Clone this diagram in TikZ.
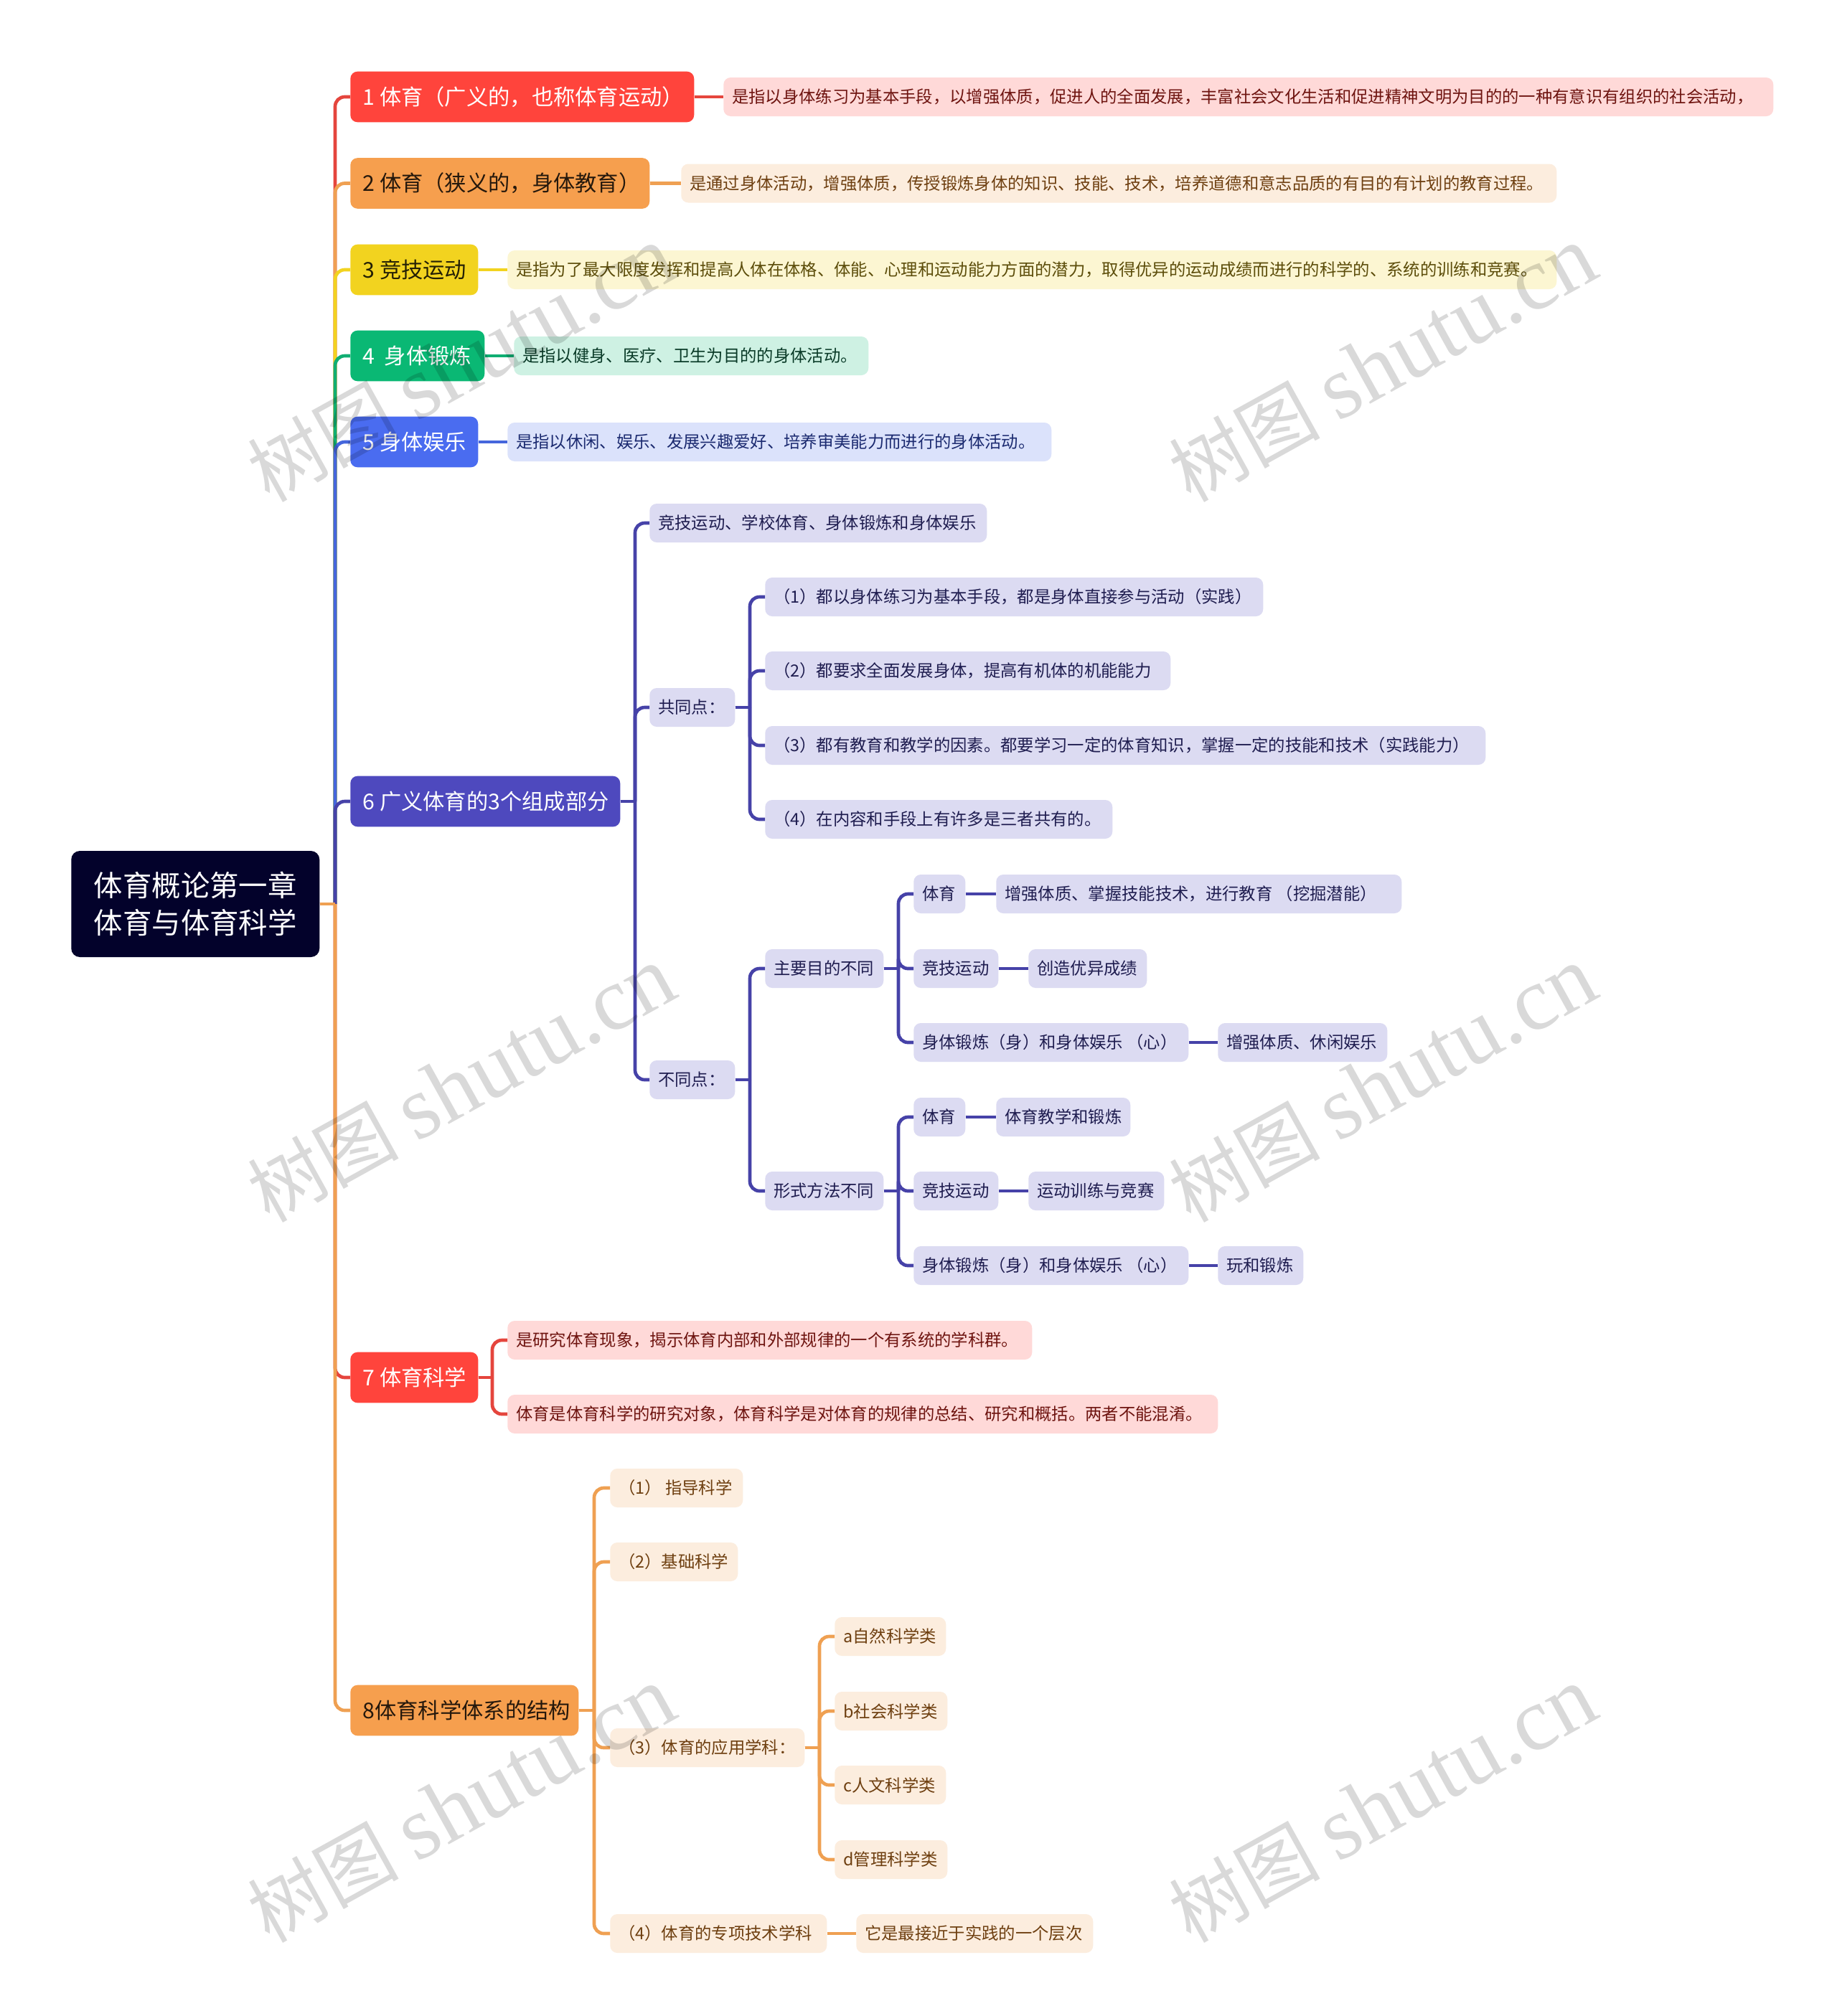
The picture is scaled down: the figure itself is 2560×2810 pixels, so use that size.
\documentclass[tikz,border=0pt]{standalone}
\usepackage{fontspec}
\setmainfont{Noto Sans CJK SC}
\newfontfamily\wmlat{Liberation Serif}
\usetikzlibrary{calc}
\definecolor{cred}{HTML}{FF443C}\definecolor{dred}{HTML}{FFD9D8}\definecolor{tred}{HTML}{6E1410}\definecolor{lred}{HTML}{E5453D}
\definecolor{cora}{HTML}{F69F4E}\definecolor{dora}{HTML}{FCEDDE}\definecolor{tora}{HTML}{6E3F10}\definecolor{lora}{HTML}{EFA052}
\definecolor{cyel}{HTML}{F2D31F}\definecolor{dyel}{HTML}{FCF6D2}\definecolor{tyel}{HTML}{5C4D0A}
\definecolor{cgre}{HTML}{0AB874}\definecolor{dgre}{HTML}{CEF1E3}\definecolor{tgre}{HTML}{0A3B28}\definecolor{lgre}{HTML}{10AE72}
\definecolor{cblu}{HTML}{4A6CF0}\definecolor{dblu}{HTML}{DBE2FB}\definecolor{tblu}{HTML}{1B2A70}\definecolor{lblu}{HTML}{4566DC}
\definecolor{cind}{HTML}{4E49BE}\definecolor{dind}{HTML}{DCDBF2}\definecolor{tind}{HTML}{1F1D50}\definecolor{lind}{HTML}{4642A8}
\definecolor{croot}{HTML}{03022B}
\newlength\insetlen
\newlength\boxw
\tikzset{
 inset/.code={\setlength\insetlen{#1}},
 boxbase/.style={rounded corners=7.5pt,inner xsep=0pt,inner ysep=0pt,anchor=west},
 lone/.style={boxbase,inset=13pt,minimum height=53pt,font=\fontsize{22.7}{27}\selectfont},
 ltwo/.style={boxbase,inset=9pt,minimum height=40.5pt,font=\fontsize{17.5}{21}\selectfont},
 conn/.style={line width=3.5pt,rounded corners=10pt},
 wmark/.style={rotate=29,text=black,opacity=0.15,text opacity=0.15,anchor=center},
}
\newcommand{\nn}[6]{\pgfmathsetlength\boxw{(#4-#3)*0.75pt}\node[#2] (#1) at (#3,#5) {\makebox[\boxw][l]{\hspace*{\insetlen}#6}};}
% \brk{from}{bus}{to}{colour}: a straight stub to the bus, then a rounded turn to the child
\newcommand{\brk}[4]{\draw[conn,draw=#4] (#1.east) -- (#2 |- #1.east);\draw[conn,draw=#4] (#2 |- #1.east) -- (#2 |- #3.west) -- (#3.west);}
\newcommand{\lnk}[3]{\draw[conn,draw=#3] (#1.east) -- (#2.west);}
\newcommand{\wm}[3]{\node[wmark] (#1) at (#2,#3) {\fontsize{79}{90}\selectfont 树图\ {\wmlat\fontsize{94}{100}\selectfont shutu.cn}};}
\begin{document}
\begin{tikzpicture}[x=0.75pt,y=-0.75pt]
\useasboundingbox (0,0) rectangle (2560,2810);
\fill[white] (0,0) rectangle (2560,2810);
\coordinate (tk) at (467,0);
\coordinate (bsix) at (885,0);
\coordinate (bsam) at (1045,0);
\coordinate (bdif) at (1045,0);
\coordinate (bm) at (1252,0);
\coordinate (bseven) at (686,0);
\coordinate (beight) at (828,0);
\coordinate (bapp) at (1142,0);
% root
\node[rounded corners=9pt,fill=croot,text=white,align=center,inner sep=0pt,minimum width=259.5pt,minimum height=111pt,anchor=west,font=\fontsize{30.3}{39}\selectfont] (root) at (99,1260) {体育概论第一章\\体育与体育科学};
% level 1
\nn{a}{lone,fill=cred,text=white}{488}{967}{135}{1 体育（广义的，也称体育运动）}
\nn{b}{lone,fill=cora,text=black!85!cora}{488}{905}{255.5}{2 体育（狭义的，身体教育）}
\nn{c}{lone,fill=cyel,text=black!85!cyel}{488}{666}{376}{3 竞技运动}
\nn{d}{lone,fill=cgre,text=white}{488}{675}{496}{4\ \ 身体锻炼}
\nn{e}{lone,fill=cblu,text=white}{488}{666}{616}{5 身体娱乐}
\nn{f}{lone,fill=cind,text=white}{488}{864}{1117}{6 广义体育的3个组成部分}
\nn{g}{lone,fill=cred,text=white}{488}{666}{1920}{7 体育科学}
\nn{h}{lone,fill=cora,text=black!85!cora}{488}{806}{2384}{8体育科学体系的结构}
% descriptions
\nn{ad}{ltwo,fill=dred,text=tred}{1008}{2471}{135}{是指以身体练习为基本手段，以增强体质，促进人的全面发展，丰富社会文化生活和促进精神文明为目的的一种有意识有组织的社会活动，}
\nn{bd}{ltwo,fill=dora,text=tora}{949}{2169}{255.5}{是通过身体活动，增强体质，传授锻炼身体的知识、技能、技术，培养道德和意志品质的有目的有计划的教育过程。}
\nn{cd}{ltwo,fill=dyel,text=tyel}{707}{2169}{376}{是指为了最大限度发挥和提高人体在体格、体能、心理和运动能力方面的潜力，取得优异的运动成绩而进行的科学的、系统的训练和竞赛。}
\nn{dd}{ltwo,fill=dgre,text=tgre}{716}{1210}{496}{是指以健身、医疗、卫生为目的的身体活动。}
\nn{ed}{ltwo,fill=dblu,text=tblu}{707}{1465}{616}{是指以休闲、娱乐、发展兴趣爱好、培养审美能力而进行的身体活动。}
% six
\tikzset{ind/.style={ltwo,fill=dind,text=tind}}
\nn{fa}{ind}{905}{1375}{729}{竞技运动、学校体育、身体锻炼和身体娱乐}
\nn{fb}{ind}{905}{1024}{986}{共同点：}
\nn{fba}{ind}{1066}{1760}{832}{（1）都以身体练习为基本手段，都是身体直接参与活动（实践）}
\nn{fbb}{ind}{1066}{1631}{935}{（2）都要求全面发展身体，提高有机体的机能能力}
\nn{fbc}{ind}{1066}{2070}{1039}{（3）都有教育和教学的因素。都要学习一定的体育知识，掌握一定的技能和技术（实践能力）}
\nn{fbd}{ind}{1066}{1550}{1142}{（4）在内容和手段上有许多是三者共有的。}
\nn{fc}{ind}{905}{1024}{1505}{不同点：}
\nn{fm}{ind}{1066}{1231}{1350}{主要目的不同}
\nn{fma}{ind}{1273}{1345}{1246}{体育}
\nn{fmaa}{ind}{1388}{1953}{1246}{增强体质、掌握技能技术，进行教育\ （挖掘潜能）}
\nn{fmb}{ind}{1273}{1391}{1350}{竞技运动}
\nn{fmbb}{ind}{1433}{1598}{1350}{创造优异成绩}
\nn{fmc}{ind}{1273}{1656}{1453}{身体锻炼（身）和身体娱乐\ （心）}
\nn{fmcc}{ind}{1697}{1933}{1453}{增强体质、休闲娱乐}
\nn{fn}{ind}{1066}{1231}{1660}{形式方法不同}
\nn{fna}{ind}{1273}{1345}{1557}{体育}
\nn{fnaa}{ind}{1388}{1575}{1557}{体育教学和锻炼}
\nn{fnb}{ind}{1273}{1391}{1660}{竞技运动}
\nn{fnbb}{ind}{1433}{1622}{1660}{运动训练与竞赛}
\nn{fnc}{ind}{1273}{1656}{1764}{身体锻炼（身）和身体娱乐\ （心）}
\nn{fncc}{ind}{1697}{1816}{1764}{玩和锻炼}
% seven
\nn{ga}{ltwo,fill=dred,text=tred}{707}{1438}{1868}{是研究体育现象，揭示体育内部和外部规律的一个有系统的学科群。}
\nn{gb}{ltwo,fill=dred,text=tred}{707}{1697}{1971}{体育是体育科学的研究对象，体育科学是对体育的规律的总结、研究和概括。两者不能混淆。}
% eight
\tikzset{ora/.style={ltwo,fill=dora,text=tora}}
\nn{ha}{ora}{850}{1035}{2074}{（1）\ 指导科学}
\nn{hb}{ora}{850}{1028}{2177}{（2）基础科学}
\nn{hc}{ora}{850}{1121}{2436}{（3）体育的应用学科：}
\nn{hca}{ora}{1163}{1318}{2281}{a自然科学类}
\nn{hcb}{ora}{1163}{1320}{2385}{b社会科学类}
\nn{hcc}{ora}{1163}{1318}{2488}{c人文科学类}
\nn{hcd}{ora}{1163}{1320}{2592}{d管理科学类}
\nn{hd}{ora}{850}{1152}{2695}{（4）体育的专项技术学科}
\nn{hdd}{ora}{1193}{1523}{2695}{它是最接近于实践的一个层次}
% trunk
\brk{root}{tk}{a}{lred}
\brk{root}{tk}{b}{lora}
\brk{root}{tk}{c}{cyel}
\brk{root}{tk}{d}{lgre}
\brk{root}{tk}{e}{lblu}
\brk{root}{tk}{f}{lind}
\brk{root}{tk}{g}{lred}
\brk{root}{tk}{h}{lora}
% desc links
\lnk{a}{ad}{lred}
\lnk{b}{bd}{lora}
\lnk{c}{cd}{cyel}
\lnk{d}{dd}{lgre}
\lnk{e}{ed}{lblu}
% six
\brk{f}{bsix}{fa}{lind}
\brk{f}{bsix}{fb}{lind}
\brk{f}{bsix}{fc}{lind}
\brk{fb}{bsam}{fba}{lind}
\brk{fb}{bsam}{fbb}{lind}
\brk{fb}{bsam}{fbc}{lind}
\brk{fb}{bsam}{fbd}{lind}
\brk{fc}{bdif}{fm}{lind}
\brk{fc}{bdif}{fn}{lind}
\brk{fm}{bm}{fma}{lind}
\brk{fm}{bm}{fmb}{lind}
\brk{fm}{bm}{fmc}{lind}
\brk{fn}{bm}{fna}{lind}
\brk{fn}{bm}{fnb}{lind}
\brk{fn}{bm}{fnc}{lind}
\lnk{fma}{fmaa}{lind}
\lnk{fmb}{fmbb}{lind}
\lnk{fmc}{fmcc}{lind}
\lnk{fna}{fnaa}{lind}
\lnk{fnb}{fnbb}{lind}
\lnk{fnc}{fncc}{lind}
% seven
\brk{g}{bseven}{ga}{lred}
\brk{g}{bseven}{gb}{lred}
% eight
\brk{h}{beight}{ha}{lora}
\brk{h}{beight}{hb}{lora}
\brk{h}{beight}{hc}{lora}
\brk{h}{beight}{hd}{lora}
\brk{hc}{bapp}{hca}{lora}
\brk{hc}{bapp}{hcb}{lora}
\brk{hc}{bapp}{hcc}{lora}
\brk{hc}{bapp}{hcd}{lora}
\lnk{hd}{hdd}{lora}
% watermarks
\wm{wa}{643}{508}
\wm{wb}{1927}{508}
\wm{wc}{643}{1512}
\wm{wd}{1927}{1512}
\wm{we}{643}{2516}
\wm{wf}{1927}{2516}
\end{tikzpicture}
\end{document}
